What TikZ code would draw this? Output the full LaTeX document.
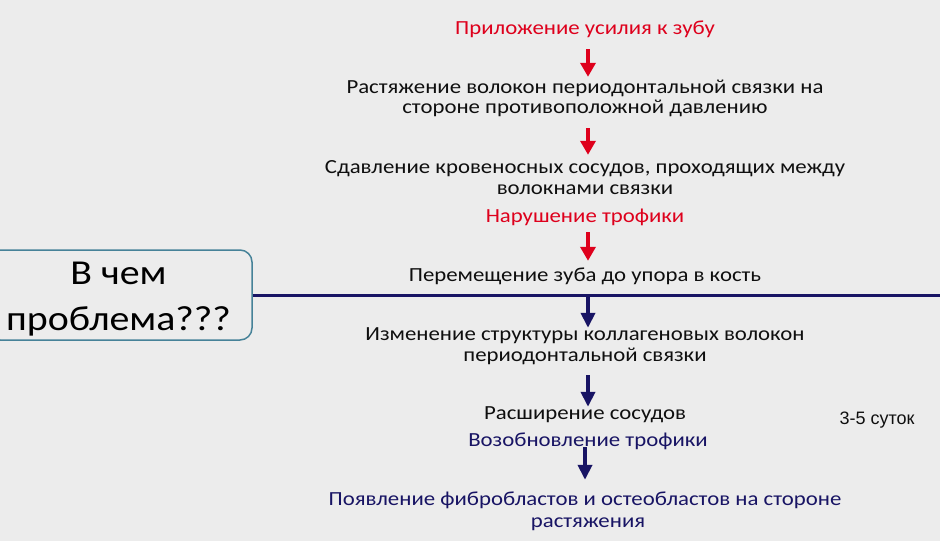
\documentclass[tikz,border=0pt]{standalone}
\usepackage{fontspec}
\setmainfont{Carlito}[FakeStretch=1.14]
\newfontfamily\arialf{Liberation Sans}
\usetikzlibrary{arrows.meta}
\definecolor{bg}{RGB}{236,236,236}
\definecolor{redc}{RGB}{222,0,28}
\definecolor{navyc}{RGB}{24,20,100}
\definecolor{boxc}{RGB}{70,130,152}
\definecolor{txtc}{RGB}{15,15,15}
\tikzset{
  txt/.style={inner sep=0pt, anchor=base, text height=14pt, text depth=5pt,
    font=\fontsize{20}{22}\selectfont, text=txtc},
  redtxt/.style={txt, text=redc},
  navytxt/.style={txt, text=navyc},
  bigtxt/.style={inner sep=0pt, anchor=base, font=\fontsize{35}{40}\selectfont, text=black},
  redarr/.style={draw=redc, line width=4pt, -{Triangle[width=15pt,length=14pt]}},
  navyarr/.style={draw=navyc, line width=4pt, -{Triangle[width=14pt,length=15pt]}},
  qbox/.style={draw=boxc, line width=1.5pt, rounded corners=12pt, minimum width=264pt,
    minimum height=90pt, inner sep=0pt}
}
\begin{document}
\begin{tikzpicture}[x=1pt,y=-1pt]
\fill[bg] (0,0) rectangle (940,541);
\useasboundingbox (0,0) rectangle (940,541);

% question box
\node[qbox] (q) at (120,295) {};
\node[bigtxt] (q1) at (118.5,284) {В чем};
\node[bigtxt] (q2) at (118.5,330) {проблема???};
\coordinate (qr) at (940,295);
\draw[navyc, line width=3pt] (q.east) -- (qr);

% chain
\node[redtxt] (l1) at (585,34) {Приложение усилия к зубу};
\node[txt] (l2a) at (585,93) {Растяжение волокон периодонтальной связки на};
\node[txt] (l2b) at (585,113) {стороне противоположной давлению};
\node[txt] (l3a) at (585,173) {Сдавление кровеносных сосудов, проходящих между};
\node[txt] (l3b) at (585,194) {волокнами связки};
\node[redtxt] (l4) at (585,222) {Нарушение трофики};
\node[txt] (l5) at (585,281) {Перемещение зуба до упора в кость};
\node[txt] (l6a) at (585,340) {Изменение структуры коллагеновых волокон};
\node[txt] (l6b) at (585,361) {периодонтальной связки};
\node[txt] (l7) at (585,419) {Расширение сосудов};
\node[navytxt] (l8) at (588,446) {Возобновление трофики};
\node[navytxt] (l9a) at (585,505) {Появление фибробластов и остеобластов на стороне};
\node[navytxt] (l9b) at (588,527) {растяжения};
\node[inner sep=0pt, anchor=base, font=\arialf\fontsize{18}{20}\selectfont, text=txtc] (t) at (877,424) {3-5 суток};

% arrows
\draw[redarr, shorten <=10pt, shorten >=2pt] ([xshift=3pt]l1.south) -- ([xshift=3pt]l2a.north);
\draw[redarr, shorten <=10pt, shorten >=4pt] ([xshift=3pt]l2b.south) -- ([xshift=3pt]l3a.north);
\draw[redarr, shorten <=5pt, shorten >=6pt] ([xshift=3pt]l4.south) -- ([xshift=3pt]l5.north);
\draw[navyarr, shorten <=9pt, shorten >=-2pt] ([xshift=3pt]l5.south) -- ([xshift=3pt]l6a.north);
\draw[navyarr, shorten <=9pt, shorten >=-2pt] ([xshift=3pt]l6b.south) -- ([xshift=3pt]l7.north);
\draw[navyarr, shorten <=-4pt, shorten >=11pt] ([xshift=-3pt]l8.south) -- (l9a.north);
\end{tikzpicture}
\end{document}
